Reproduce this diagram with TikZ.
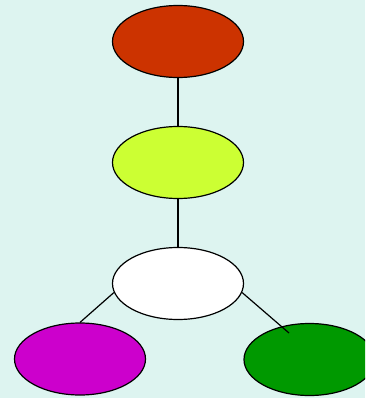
\documentclass[tikz,border=0pt]{standalone}
\usetikzlibrary{shapes.geometric}
\definecolor{bgteal}{HTML}{DDF4F0}
\definecolor{rootred}{HTML}{CC3300}
\definecolor{limeyellow}{HTML}{CCFF33}
\definecolor{leafmagenta}{HTML}{CC00CC}
\definecolor{leafgreen}{HTML}{009900}
\tikzset{
  blob/.style={ellipse, draw=black, line width=1.2pt, minimum width=131pt, minimum height=72pt, inner sep=0pt},
  branch/.style={draw=black, line width=1.2pt}
}
\begin{document}
\begin{tikzpicture}[x=1pt, y=-1pt]
				% 1. 背景与裁剪
				\fill[bgteal] (0, 0) rectangle (365, 398);
				\useasboundingbox (0, 0) rectangle (365, 398);
				\clip (0, 0) rectangle (365, 398);
				
				% 2. 椭圆结点
				\node[blob, fill=rootred] (root) at (178, 41.5) {};
				\node[blob, fill=limeyellow] (mid) at (178, 162.5) {};
				\node[blob, fill=white] (low) at (178, 283.5) {};
				\node[blob, fill=leafmagenta] (left) at (80, 359) {};
				\node[blob, fill=leafgreen] (right) at (309.5, 359.5) {};
				
				% 3. 连线
				\coordinate (tip) at (289, 333);
				\draw[branch] (root.south) -- (mid.north);
				\draw[branch] (mid.south) -- (low.north);
				\draw[branch] (low.188) -- (left.north);
				\draw[branch] (low.352) -- (tip);
			\end{tikzpicture}
\end{document}
